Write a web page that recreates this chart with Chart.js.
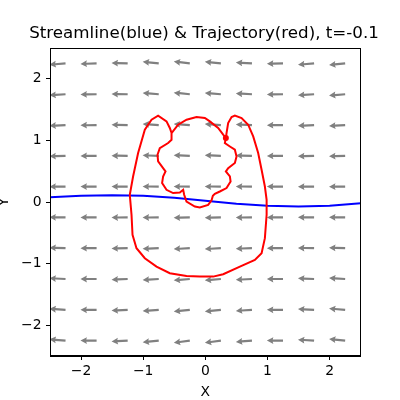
<!DOCTYPE html>
<html>
<head>
<meta charset="utf-8">
<script src="https://cdn.jsdelivr.net/npm/chart.js@4.4.0/dist/chart.umd.min.js"></script>
<style>html,body{margin:0;padding:0;background:#fff}</style>
</head>
<body>
<canvas id="flowChart" width="400" height="400"></canvas>
<script>
// Judul dan label sumbu
const titleText = 'Streamline(blue) & Trajectory(red), t=-0.1';
const xTicks = [-2, -1, 0, 1, 2];
const yTicks = [-2, -1, 0, 1, 2];

// Garis arus (biru)
const streamX = [-2.5, -2.0, -1.5, -1.0, -0.5, 0.0, 0.5, 1.0, 1.5, 2.0, 2.5];
const streamY = [0.076, 0.10, 0.109, 0.10, 0.068, 0.02, -0.03, -0.062, -0.073, -0.062, -0.021];

// Lintasan partikel (merah)
const trajX = [-0.544, -0.438, -0.303, -0.142, -0.008, 0.072, 0.206, 0.287, 0.330,
  0.341, 0.367, 0.422, 0.475, 0.583, 0.689, 0.770, 0.850, 0.905, 0.958, 0.986, 0.986,
  0.958, 0.905, 0.797, 0.556, 0.287, 0.126, -0.089, -0.303, -0.572, -0.786, -0.974,
  -1.108, -1.172, -1.188, -1.216, -1.163, -1.082, -0.974, -0.866, -0.760, -0.625,
  -0.572, -0.544, -0.544, -0.599, -0.733, -0.770, -0.760, -0.680, -0.641, -0.680,
  -0.696, -0.625, -0.519, -0.411, -0.357, -0.341, -0.303, -0.169, -0.089, 0.045,
  0.100, 0.121, 0.153, 0.233, 0.341, 0.406, 0.395, 0.330, 0.367, 0.475, 0.502, 0.475,
  0.395, 0.314, 0.330];
const trajY = [1.120, 1.255, 1.337, 1.380, 1.364, 1.309, 1.202, 1.093, 1.039,
  1.120, 1.283, 1.380, 1.402, 1.364, 1.255, 1.065, 0.795, 0.524, 0.252, 0.036, -0.208,
  -0.587, -0.831, -0.940, -1.049, -1.172, -1.211, -1.211, -1.200, -1.156, -1.049, -0.912,
  -0.750, -0.533, -0.208, 0.117, 0.415, 0.795, 1.174, 1.337, 1.402, 1.309,
  1.202, 1.120, 1.011, 0.958, 0.876, 0.767, 0.659, 0.551, 0.496, 0.415,
  0.307, 0.198, 0.145, 0.154, 0.198, 0.117, 0.008, -0.073, -0.089, -0.046,
  0.028, 0.101, 0.133, 0.171, 0.226, 0.333, 0.415, 0.496, 0.551, 0.633, 0.740, 0.849,
  0.902, 0.958, 1.039];

// Posisi partikel saat ini
const dotX = [0.330];
const dotY = [1.039];

// Medan vektor (panah abu-abu): titik ekor dan kemiringan v/u
const gridX = [-2.25, -1.75, -1.25, -0.75, -0.25, 0.25, 0.75, 1.25, 1.75, 2.25];
const gridY = [2.25, 1.75, 1.25, 0.75, 0.25, -0.25, -0.75, -1.25, -1.75, -2.25];
const slopeV = [
  [-0.08, -0.03, 0.03, 0.10, 0.12, 0.10, 0.06, -0.02, -0.08, -0.10],
  [-0.06, -0.02, 0.02, 0.08, 0.10, 0.08, 0.05, -0.02, -0.06, -0.08],
  [-0.05, -0.02, 0.02, 0.06, 0.07, 0.06, 0.04, -0.01, -0.05, -0.06],
  [-0.03, -0.01, 0.01, 0.03, 0.04, 0.04, 0.02, -0.01, -0.03, -0.03],
  [-0.01, 0.00, 0.00, 0.01, 0.01, 0.01, 0.01, 0.00, -0.01, -0.01],
  [0.01, 0.00, -0.01, -0.01, -0.02, -0.02, -0.01, 0.00, 0.01, 0.01],
  [0.03, 0.00, -0.02, -0.04, -0.05, -0.05, -0.03, 0.00, 0.02, 0.03],
  [0.05, 0.00, -0.04, -0.06, -0.08, -0.08, -0.05, 0.00, 0.04, 0.06],
  [0.06, 0.00, -0.05, -0.08, -0.11, -0.11, -0.07, 0.00, 0.05, 0.08],
  [0.08, 0.00, -0.06, -0.10, -0.14, -0.14, -0.08, 0.00, 0.06, 0.10]
];
const arrowLen = 0.26;

const toPoints = (xs, ys) => xs.map((v, i) => ({x: v, y: ys[i]}));
const minus = v => String(v).replace('-', '\u2212');
const font = size => ({family: 'DejaVu Sans', size: size, weight: 'normal'});

// Plugin: gambar panah quiver dan bingkai sumbu
const quiverPlugin = {
  id: 'quiver',
  beforeDatasetsDraw(chart) {
    const {ctx, chartArea: a, scales: {x, y}} = chart;
    ctx.save();
    ctx.beginPath();
    ctx.rect(a.left, a.top, a.right - a.left, a.bottom - a.top);
    ctx.clip();
    ctx.fillStyle = '#808080';
    gridY.forEach((gy, r) => {
      gridX.forEach((gx, c) => {
        const s = slopeV[r][c];
        const n = Math.hypot(1, s);
        const x0 = x.getPixelForValue(gx), y0 = y.getPixelForValue(gy);
        const x1 = x.getPixelForValue(gx - arrowLen / n);
        const y1 = y.getPixelForValue(gy + arrowLen * s / n);
        const len = Math.hypot(x1 - x0, y1 - y0);
        const dx = (x1 - x0) / len, dy = (y1 - y0) / len;
        const px = -dy, py = dx;
        const hw = 1.1, hh = 3.4, hl = 6.5, ha = 5.8;
        const bx = x1 - dx * ha, by = y1 - dy * ha;
        const cx = x1 - dx * hl, cy = y1 - dy * hl;
        ctx.beginPath();
        ctx.moveTo(x0 + px * hw, y0 + py * hw);
        ctx.lineTo(bx + px * hw, by + py * hw);
        ctx.lineTo(cx + px * hh, cy + py * hh);
        ctx.lineTo(x1, y1);
        ctx.lineTo(cx - px * hh, cy - py * hh);
        ctx.lineTo(bx - px * hw, by - py * hw);
        ctx.lineTo(x0 - px * hw, y0 - py * hw);
        ctx.closePath();
        ctx.fill();
      });
    });
    ctx.restore();
  },
  afterDraw(chart) {
    const {ctx, chartArea: a} = chart;
    ctx.save();
    ctx.strokeStyle = '#000';
    ctx.lineWidth = 1;
    ctx.strokeRect(Math.round(a.left) + 0.5, Math.round(a.top) + 0.5,
      Math.round(a.right - a.left) - 1, Math.round(a.bottom - a.top) - 1);
    ctx.restore();
  }
};

const ctx = document.getElementById('flowChart').getContext('2d');
const flowChart = new Chart(ctx, {
  type: 'scatter',
  data: {
    datasets: [
      {
        label: 'Posisi',
        data: toPoints(dotX, dotY),
        pointRadius: 3,
        pointBackgroundColor: '#ff0000',
        pointBorderWidth: 0,
        showLine: false
      },
      {
        label: 'Trajectory',
        data: toPoints(trajX, trajY),
        showLine: true,
        borderColor: '#ff0000',
        borderWidth: 2,
        pointRadius: 0,
        tension: 0,
        fill: false
      },
      {
        label: 'Streamline',
        data: toPoints(streamX, streamY),
        showLine: true,
        borderColor: '#0000ff',
        borderWidth: 2,
        pointRadius: 0,
        tension: 0,
        fill: false
      }
    ]
  },
  options: {
    responsive: false,
    animation: false,
    devicePixelRatio: 1,
    layout: {padding: {left: 8, right: 0, top: 0, bottom: 0}},
    plugins: {
      legend: {display: false},
      tooltip: {enabled: false},
      title: {
        display: true,
        text: titleText,
        color: '#000',
        font: font(16.7),
        padding: {top: 24, bottom: 4}
      }
    },
    scales: {
      x: {
        type: 'linear',
        min: -2.5,
        max: 2.5,
        afterBuildTicks: s => { s.ticks = xTicks.map(v => ({value: v})); },
        afterFit: s => { s.height = 44; },
        ticks: {color: '#000', font: font(13.9), padding: 3, callback: minus},
        grid: {drawOnChartArea: false, drawTicks: true, tickLength: 4, color: '#000'},
        border: {color: '#000', width: 1},
        title: {display: true, text: 'X', color: '#000', font: font(13.9), padding: {top: 0, bottom: -1}}
      },
      y: {
        type: 'linear',
        min: -2.5,
        max: 2.5,
        afterBuildTicks: s => { s.ticks = yTicks.map(v => ({value: v})); },
        afterFit: s => { s.width = 42; },
        ticks: {color: '#000', font: font(13.9), padding: 4.5, callback: minus},
        grid: {drawOnChartArea: false, drawTicks: true, tickLength: 4, color: '#000'},
        border: {color: '#000', width: 1},
        title: {display: true, text: 'Y', color: '#000', font: font(13.9), padding: {top: -12, bottom: 0}}
      },
      yRight: {
        type: 'linear',
        position: 'right',
        min: -2.5,
        max: 2.5,
        afterFit: s => { s.width = 39.3; },
        ticks: {display: false},
        grid: {display: false},
        border: {display: false}
      }
    }
  },
  plugins: [quiverPlugin]
});
</script>
</body>
</html>
